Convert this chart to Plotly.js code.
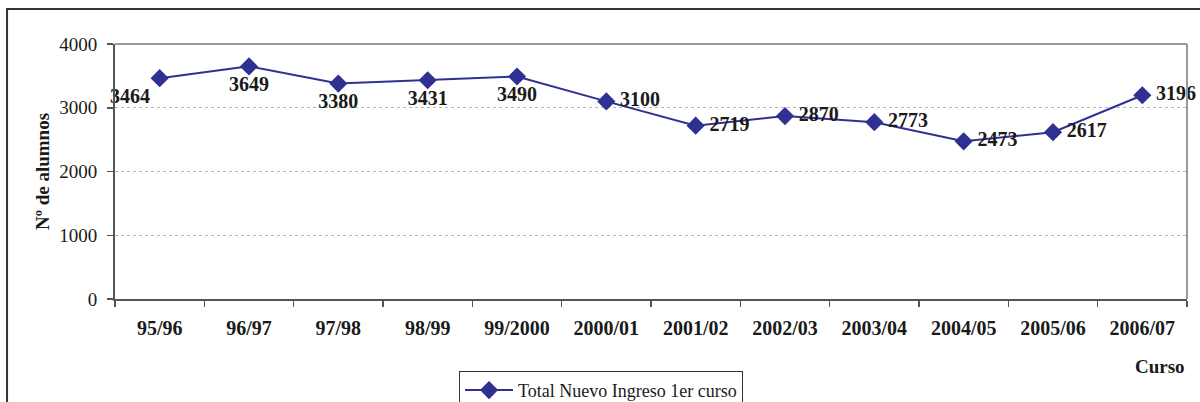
<!DOCTYPE html>
<html>
<head>
<meta charset="utf-8">
<script src="https://cdn.plot.ly/plotly-3.0.1.min.js"></script>
<style>
html, body { margin: 0; padding: 0; background: #fff; }
#chart { width: 1200px; height: 402px; }
</style>
</head>
<body>
<div id="chart"></div>
<script>
const categories = ["95/96", "96/97", "97/98", "98/99", "99/2000", "2000/01", "2001/02", "2002/03", "2003/04", "2004/05", "2005/06", "2006/07"];
const totalNuevoIngreso = [3464, 3649, 3380, 3431, 3490, 3100, 2719, 2870, 2773, 2473, 2617, 3196];
const seriesName = "Total Nuevo Ingreso 1er curso";
const yTickValues = [0, 1000, 2000, 3000, 4000];

const labelPositions = ["bottom left", "bottom center", "bottom center", "bottom center", "bottom center",
  "middle right", "middle right", "middle right", "middle right", "middle right", "middle right", "middle right"];

const serif = "Liberation Serif, Times New Roman, serif";
const navy = "#2E3192";

const trace = {
  x: categories,
  y: totalNuevoIngreso,
  type: "scatter",
  mode: "lines+markers+text",
  name: seriesName,
  text: totalNuevoIngreso.map((v, i) => (labelPositions[i] === "middle right" ? "\u2009" : "") + String(v)),
  textposition: labelPositions,
  textfont: { family: serif, size: 20, color: "#1a1a1a", weight: "bold" },
  line: { color: navy, width: 2 },
  marker: { symbol: "diamond", size: 14, color: navy },
  cliponaxis: false,
  hoverinfo: "x+y"
};

const layout = {
  width: 1200,
  height: 402,
  margin: { l: 115, r: 13, t: 44, b: 103, autoexpand: false },
  paper_bgcolor: "#ffffff",
  plot_bgcolor: "#ffffff",
  font: { family: serif, color: "#1a1a1a" },
  showlegend: true,
  legend: {
    x: 0.4534, y: -0.282, xanchor: "center", yanchor: "top",
    bordercolor: "#333333", borderwidth: 1,
    font: { family: serif, size: 18, color: "#1a1a1a" },
    itemwidth: 48,
    bgcolor: "#ffffff"
  },
  xaxis: {
    type: "category",
    range: [-0.5, categories.length - 0.5],
    tickson: "boundaries",
    ticks: "outside", ticklen: 6, tickcolor: "#555555", tickwidth: 1.5,
    showline: true, linecolor: "#555555", linewidth: 2,
    showgrid: false, zeroline: false,
    tickfont: { family: serif, size: 20, color: "#1a1a1a", weight: "bold" },
    ticklabelstandoff: 10,
    automargin: false,
    fixedrange: true
  },
  yaxis: {
    range: [0, 4000],
    tickvals: yTickValues,
    ticks: "outside", ticklen: 6, tickcolor: "#555555", tickwidth: 1.5,
    showline: true, linecolor: "#555555", linewidth: 2,
    showgrid: true, gridcolor: "#b5b5b5", gridwidth: 1, griddash: "dot",
    zeroline: false,
    tickfont: { family: serif, size: 19, color: "#1a1a1a" },
    ticklabelstandoff: 6,
    title: { text: "Nº de alumnos", font: { family: serif, size: 19, color: "#1a1a1a", weight: "bold" }, standoff: 5 },
    automargin: false,
    fixedrange: true
  },
  annotations: [{
    text: "Curso", xref: "paper", yref: "paper", x: 1.0, y: -0.263,
    xanchor: "right", yanchor: "middle", showarrow: false,
    font: { family: serif, size: 19, color: "#1a1a1a", weight: "bold" }
  }],
  shapes: [
    { type: "line", xref: "paper", yref: "paper", x0: 0, x1: 1, y0: 1, y1: 1, line: { color: "#999999", width: 2 } },
    { type: "line", xref: "paper", yref: "paper", x0: 1, x1: 1, y0: 0, y1: 1, line: { color: "#999999", width: 2 } },
    { type: "rect", xref: "paper", yref: "paper", x0: -0.1007, x1: 1.2, y0: -1, y1: 1.137, line: { color: "#333333", width: 2 }, layer: "below" }
  ]
};

Plotly.newPlot("chart", [trace], layout, { displayModeBar: false, staticPlot: true });
</script>
</body>
</html>
